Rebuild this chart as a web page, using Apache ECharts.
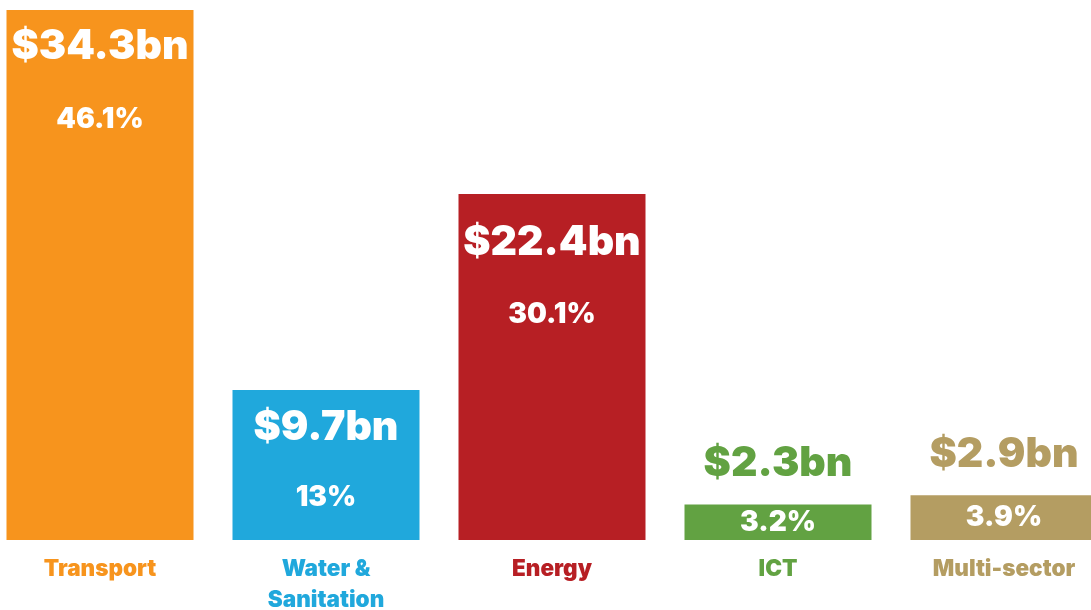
<!DOCTYPE html>
<html>
<head>
<meta charset="utf-8">
<script src="https://cdn.jsdelivr.net/npm/echarts@6/dist/echarts.min.js"></script>
<style>
  html, body { margin: 0; padding: 0; background: #ffffff; }
  #chart { width: 1091px; height: 610px; }
</style>
</head>
<body>
<div id="chart"></div>
<script>
const categories = ['Transport', 'Water &\nSanitation', 'Energy', 'ICT', 'Multi-sector'];
const valuesBn = [34.3, 9.7, 22.4, 2.3, 2.9];
const shares = ['46.1%', '13%', '30.1%', '3.2%', '3.9%'];
const colors = ['#F7941D', '#20A8DC', '#B71F24', '#62A242', '#B49D62'];

const FONT = 'Inter, "Noto Sans", sans-serif';
const SMALL = 5; // bars below this value carry their amount label above

// label offsets (styling only)
const valueInsideDist = [16.5, 17.5, 28.5, 0, 0];
const shareInsideDist = [96, 93, 107, 0, 0];

const rich = {};
colors.forEach((c, i) => {
  rich['c' + i] = { color: c, fontSize: 22.5, fontWeight: 900, fontFamily: FONT, lineHeight: 31 };
});

const valueData = valuesBn.map((v, i) => ({
  value: v,
  itemStyle: { color: colors[i] },
  label: v < SMALL
    ? { position: 'top', distance: 20, color: colors[i] }
    : { position: 'insideTop', distance: valueInsideDist[i], color: '#ffffff' }
}));

const shareData = valuesBn.map((v, i) => ({
  value: v,
  label: v < SMALL
    ? { position: 'inside' }
    : { position: 'insideTop', distance: shareInsideDist[i] }
}));

const option = {
  animation: false,
  backgroundColor: '#ffffff',
  grid: { left: -13, right: -26, top: 10, bottom: 70, outerBoundsMode: 'none', containLabel: false },
  xAxis: {
    type: 'category',
    data: categories,
    axisLine: { show: false },
    axisTick: { show: false },
    axisLabel: {
      margin: 14,
      interval: 0,
      formatter: function (val, idx) {
        return val.split('\n').map(s => '{c' + idx + '|' + s + '}').join('\n');
      },
      rich: rich
    }
  },
  yAxis: {
    type: 'value',
    min: 0,
    max: 34.3,
    show: false,
    splitLine: { show: false }
  },
  series: [
    {
      type: 'bar',
      barWidth: 187,
      clip: false,
      data: valueData,
      label: {
        show: true,
        fontSize: 41,
        lineHeight: 41,
        fontWeight: 900,
        fontFamily: FONT,
        formatter: p => '$' + p.value + 'bn'
      },
      z: 2
    },
    {
      type: 'bar',
      barWidth: 187,
      barGap: '-100%',
      clip: false,
      data: shareData,
      itemStyle: { color: 'rgba(0,0,0,0)' },
      label: {
        show: true,
        color: '#ffffff',
        fontSize: 28,
        lineHeight: 28,
        fontWeight: 900,
        fontFamily: FONT,
        formatter: p => shares[p.dataIndex]
      },
      z: 3
    }
  ]
};

const chart = echarts.init(document.getElementById('chart'), null, { renderer: 'canvas' });
chart.setOption(option);
</script>
</body>
</html>
